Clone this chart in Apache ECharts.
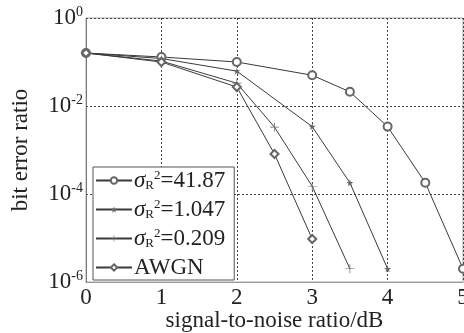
<!DOCTYPE html>
<html>
<head>
<meta charset="utf-8">
<script src="https://cdn.jsdelivr.net/npm/echarts@6/dist/echarts.min.js"></script>
<style>
  html, body { margin: 0; padding: 0; background: #fff; }
  #chart { width: 464px; height: 333px; }
</style>
</head>
<body>
<div id="chart"></div>
<script>
// 信噪比 (dB) 与误码率
const snrCircle = [0, 1, 2, 3, 3.5, 4, 4.5, 5];
const berCircle = [0.16, 0.13, 0.1, 0.05, 0.021, 0.0034, 1.8e-4, 2e-6];

const snrStar = [0, 1, 2, 3, 3.5, 4];
const berStar = [0.16, 0.12, 0.062, 0.0034, 1.8e-4, 2e-6];

const snrPlus = [0, 1, 2, 2.5, 3, 3.5];
const berPlus = [0.16, 0.105, 0.033, 0.0033, 1.5e-4, 2e-6];

const snrAwgn = [0, 1, 2, 2.5, 3];
const berAwgn = [0.16, 0.1, 0.027, 8.1e-4, 9.5e-6];

const legendNames = ['41.87', '1.047', '0.209', 'AWGN'];

const FONT = 'Liberation Serif';
const LINE_COLOR = '#3a3a3a';
const STAR_PATH = 'path://M50,0 L61,35 L98,35 L68,57 L79,91 L50,70 L21,91 L32,57 L2,35 L39,35 Z';
const PLUS_PATH = 'path://M4.6,0h0.8v4.6h4.6v0.8h-4.6v4.6h-0.8v-4.6h-4.6v-0.8h4.6z';

function pairs(xs, ys) {
  return xs.map((x, i) => [x, ys[i]]);
}

function makeSeries(name, xs, ys, symbol, size) {
  return {
    name: name,
    type: 'line',
    data: pairs(xs, ys),
    symbol: symbol,
    symbolSize: size,
    showAllSymbol: true,
    lineStyle: { color: LINE_COLOR, width: 1 },
    itemStyle: { color: '#666', borderWidth: 0.8 },
    emphasis: { disabled: true },
  };
}

const chart = echarts.init(document.getElementById('chart'));
chart.setOption({
  animation: false,
  textStyle: { fontFamily: FONT, color: '#222' },
  grid: {
    left: 86,
    top: 18,
    right: 1,
    bottom: 51,
    show: true,
    borderColor: '#aaa',
    borderWidth: 1,
    outerBoundsMode: 'none',
    containLabel: false,
  },
  xAxis: {
    type: 'value',
    min: 0,
    max: 5,
    interval: 1,
    name: 'signal-to-noise ratio/dB',
    nameLocation: 'middle',
    nameGap: 27,
    nameMoveOverlap: false,
    nameTextStyle: { fontFamily: FONT, fontSize: 23, color: '#222' },
    axisLine: { lineStyle: { color: '#999', width: 1 } },
    axisTick: { show: false },
    axisLabel: { fontFamily: FONT, fontSize: 23, color: '#222', margin: 4 },
    splitLine: { lineStyle: { color: '#444', type: [2, 2], width: 1 } },
  },
  yAxis: {
    type: 'log',
    logBase: 10,
    min: 1e-6,
    max: 1,
    interval: 2,
    name: 'bit error ratio',
    nameLocation: 'middle',
    nameGap: 54,
    nameMoveOverlap: false,
    nameTextStyle: { fontFamily: FONT, fontSize: 23, color: '#222' },
    axisLine: { lineStyle: { color: '#777', width: 1 } },
    axisTick: { show: false },
    axisLabel: {
      margin: 3,
      formatter: (v) => '{b|10}{e|' + Math.round(Math.log10(v)) + '}',
      rich: {
        b: { fontFamily: FONT, fontSize: 23, color: '#222' },
        e: { fontFamily: FONT, fontSize: 14, color: '#222', padding: [0, 0, 12, 0] },
      },
    },
    splitLine: { lineStyle: { color: '#444', type: [2, 2], width: 1 } },
  },
  legend: {
    orient: 'vertical',
    left: 93,
    top: 167,
    padding: [2, 9, 1, 2],
    itemGap: 6,
    itemWidth: 36,
    itemHeight: 8,
    backgroundColor: '#fff',
    borderColor: '#555',
    borderWidth: 1,
    borderRadius: 0,
    selectedMode: false,
    formatter: (name) =>
      name === 'AWGN'
        ? '{n|AWGN}'
        : '{s|σ}{sub|R}{sup|2}{n|=' + name + '}',
    textStyle: {
      padding: [0, 0, 0, -3],
      rich: {
        s: { fontFamily: FONT, fontStyle: 'italic', fontSize: 23, color: '#222', lineHeight: 24 },
        sub: { fontFamily: FONT, fontSize: 13, color: '#222', padding: [10, 0, 0, 0], lineHeight: 24 },
        sup: { fontFamily: FONT, fontSize: 13, color: '#222', padding: [0, 0, 10, 0], lineHeight: 24 },
        n: { fontFamily: FONT, fontSize: 23, color: '#222', lineHeight: 24 },
      },
    },
    data: legendNames,
  },
  series: [
    makeSeries(legendNames[0], snrCircle, berCircle, 'emptyCircle', 8),
    makeSeries(legendNames[1], snrStar, berStar, STAR_PATH, 7),
    makeSeries(legendNames[2], snrPlus, berPlus, PLUS_PATH, 9),
    makeSeries(legendNames[3], snrAwgn, berAwgn, 'emptyDiamond', 8),
  ],
});
</script>
</body>
</html>
